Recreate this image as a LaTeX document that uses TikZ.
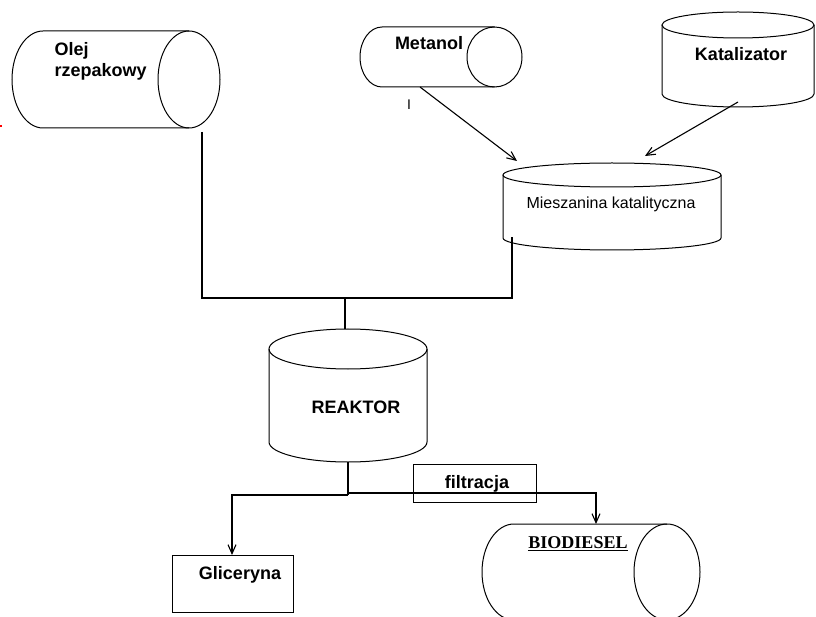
\documentclass[tikz,border=0pt]{standalone}
\usepackage{fontspec}
\setmainfont{Liberation Sans}
\newfontfamily\timesfont{Liberation Serif}
\usetikzlibrary{arrows.meta}

\begin{document}
\begin{tikzpicture}[x=1pt,y=-1pt,line width=1pt,
  lbl/.style={font=\fontsize{18}{21}\selectfont\bfseries,inner sep=0pt},
  small/.style={font=\fontsize{16}{19}\selectfont,inner sep=0pt},
  shp/.style={draw=black,line width=1pt},
  conn/.style={draw=black,line width=1.1pt},
  arr/.style={conn,-{Straight Barb[length=9pt,width=8pt,line width=1.1pt]}}]

\fill[white] (0,0) rectangle (816,617);
\useasboundingbox (0,0) rectangle (816,617);
\clip (0,0) rectangle (816,617);

% small red mark on the left edge
\draw[red,line width=2pt] (0,126) -- (2,126);

% --- Olej rzepakowy (horizontal tank) ---
\draw[shp] (189,31) -- (43,31)
  arc[start angle=-90,end angle=-270,x radius=31,y radius=48.5] -- (189,128);
\draw[shp] (189,79.5) ellipse[x radius=31,y radius=48.5];
\node[lbl,anchor=north west,align=left] (olej) at (54,42) {Olej\\rzepakowy};

% --- Metanol (horizontal tank) ---
\draw[shp] (494.5,27) -- (382,27)
  arc[start angle=-90,end angle=-270,x radius=22,y radius=30] -- (494.5,87);
\draw[shp] (494.5,57) ellipse[x radius=27.5,y radius=30];
\node[lbl,anchor=base] (metanol) at (429,50) {Metanol};
\node[font=\fontsize{14}{16}\selectfont,inner sep=0pt,anchor=base] (kursor) at (409,110) {I};

% --- Katalizator (vertical tank) ---
\draw[shp] (738,25) ellipse[x radius=76,y radius=13];
\draw[shp] (662,25) -- (662,94)
  arc[start angle=180,end angle=0,x radius=76,y radius=13] -- (814,25);
\node[lbl,anchor=base] (katalizator) at (741,61) {Katalizator};

% --- Mieszanina katalityczna (vertical tank) ---
\draw[shp] (612,175) ellipse[x radius=109,y radius=12];
\draw[shp] (503,175) -- (503,238)
  arc[start angle=180,end angle=0,x radius=109,y radius=12] -- (721,175);
\node[small,anchor=base] (mieszanina) at (611,209) {Mieszanina katalityczna};

% --- REAKTOR (vertical tank) ---
\draw[shp] (348,349) ellipse[x radius=79,y radius=20];
\draw[shp] (269,349) -- (269,442)
  arc[start angle=180,end angle=0,x radius=79,y radius=20] -- (427,349);
\node[lbl,anchor=base] (reaktor) at (356,413) {REAKTOR};

% --- filtracja box ---
\node[draw=black,line width=1pt,minimum width=123pt,minimum height=38pt,
      inner sep=0pt] (filtrBox) at (474.5,483) {};
\node[lbl,anchor=base] (filtracja) at (477,488) {filtracja};

% --- Gliceryna box ---
\node[draw=black,line width=1pt,minimum width=121pt,minimum height=57pt,
      inner sep=0pt] (glicBox) at (232.5,583.5) {};
\node[lbl,anchor=base] (gliceryna) at (240,579) {Gliceryna};

% --- BIODIESEL (horizontal tank) ---
\draw[shp] (667,524) -- (514,524)
  arc[start angle=-90,end angle=-270,x radius=32,y radius=48] -- (667,620);
\draw[shp] (667,572) ellipse[x radius=33,y radius=48];
\node[font=\fontsize{18}{21}\selectfont\timesfont\bfseries,inner sep=0pt,anchor=base]
  (biodiesel) at (578,548) {BIODIESEL};
\draw[line width=1.2pt] ([yshift=-2.8pt]biodiesel.base west) -- ([yshift=-2.8pt]biodiesel.base east);

% --- connection points ---
\coordinate (olejOut) at (202,132);
\coordinate (metOut) at (420,87);
\coordinate (mixInL) at (517,161);
\coordinate (katOut) at (738,102);
\coordinate (mixInR) at (645,156);
\coordinate (mixOut) at (512,237);
\coordinate (busL) at (202,298);
\coordinate (busM) at (345,298);
\coordinate (busR) at (512,298);
\coordinate (reakIn) at (345,329);
\coordinate (reakOut) at (348,462);
\coordinate (splitL) at (348,495);
\coordinate (splitR) at (348,493);
\coordinate (glicIn) at (232,555);
\coordinate (bioIn) at (596,524);

% --- connectors ---
\draw[arr] (metOut) -- (mixInL);
\draw[arr] (katOut) -- (mixInR);
\draw[conn] (olejOut) -- (busL) -- (busR) -- (mixOut);
\draw[conn] (busM) -- (reakIn);
\draw[conn] (reakOut) -- (splitL);
\draw[arr] (splitL) -| (glicIn);
\draw[arr] (splitR) -| (bioIn);

\end{tikzpicture}
\end{document}
